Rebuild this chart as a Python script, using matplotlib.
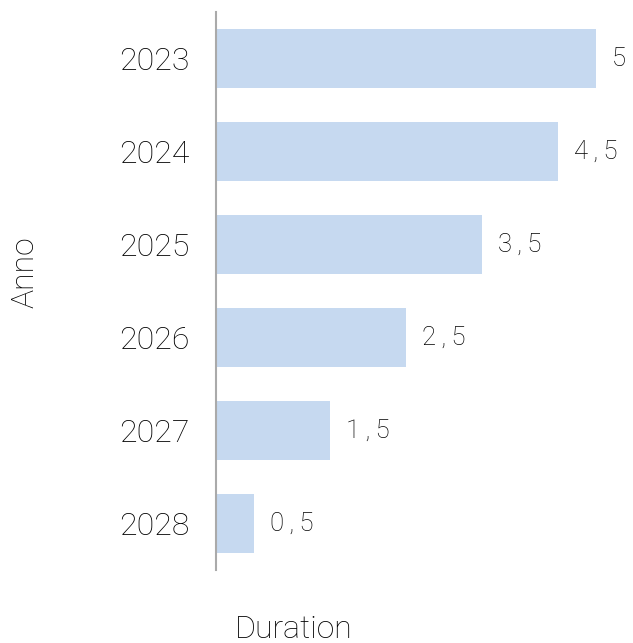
import matplotlib.pyplot as plt

years = ["2023", "2024", "2025", "2026", "2027", "2028"]
durations = [5, 4.5, 3.5, 2.5, 1.5, 0.5]
value_labels = ["5", "4\u2009,\u20095", "3\u2009,\u20095", "2\u2009,\u20095",
                "1\u2009,\u20095", "0\u2009,\u20095"]

plt.rcParams['font.family'] = ['Roboto', 'DejaVu Sans']
plt.rcParams['font.weight'] = 'light'

fig = plt.figure(figsize=(6.33, 6.43), dpi=100)
ax = fig.add_axes([216 / 633, 73 / 643, 418 / 633, 558 / 643])

ypos = list(range(len(years)))
bars = ax.barh(ypos, durations, height=0.645, color='#c6d9f0')

for b, lab in zip(bars, value_labels):
    ax.text(b.get_width() + 0.21, b.get_y() + b.get_height() / 2, lab,
            va='center', ha='left', fontsize=18.5, color='#000000',
            fontweight='light')

ax.set_yticks(ypos)
ax.set_yticklabels(years, fontsize=23, color='#000000', fontweight='light')
ax.set_xticks([])
ax.tick_params(axis='y', length=0, pad=19)
ax.set_ylim(5.5, -0.5)
ax.set_xlim(0, 5.5)

for s in ['top', 'right', 'bottom']:
    ax.spines[s].set_visible(False)
ax.spines['left'].set_color('#aaaaaa')
ax.spines['left'].set_linewidth(1.5)

fig.text(25 / 633, 1 - 272 / 643, "Anno", rotation=90, ha='center', va='center',
         fontsize=23, color='#000000', fontweight='light')
fig.text(294 / 633, 1 - 630 / 643, "Duration", ha='center', va='center',
         fontsize=23, color='#000000', fontweight='light')

fig.savefig("out.png", dpi=100)
